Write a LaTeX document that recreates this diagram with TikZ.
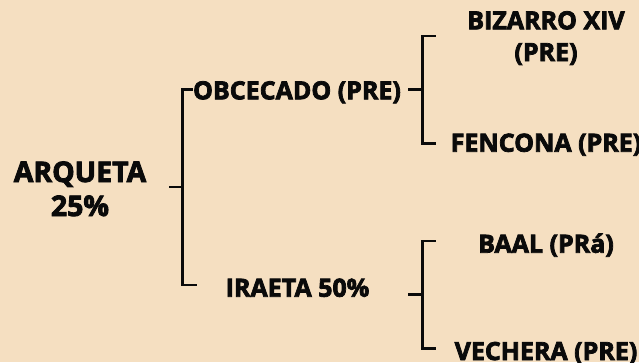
\documentclass[tikz,border=0pt]{standalone}
\usepackage{fontspec}
\setmainfont{Open Sans}[BoldFeatures={FakeBold=3}]
\definecolor{bg}{HTML}{F5DFC1}
\definecolor{ink}{HTML}{0A0A0A}
\tikzset{
  big/.style={font=\bfseries\fontsize{28.4}{34}\selectfont, text=ink, inner sep=0pt, anchor=base, align=center},
  lbl/.style={font=\bfseries\fontsize{25}{32}\selectfont, text=ink, inner sep=0pt, anchor=base, align=center},
  brk/.style={draw=ink, line width=2.8pt, line join=miter, line cap=butt}
}
\begin{document}
\begin{tikzpicture}[x=1pt,y=-1pt]
\fill[bg] (0,0) rectangle (639,362);
\useasboundingbox (0,0) rectangle (639,362);
% texts
\node[big] (arq) at (80,182) {ARQUETA};
\node[big] (arqp) at (80,216) {25\%};
\node[lbl] (obc) at (297,99.3) {OBCECADO (PRE)};
\node[lbl] (ira) at (297.5,296.7) {IRAETA 50\%};
\node[lbl] (biz) at (546,29.3) {BIZARRO XIV};
\node[lbl] (bizp) at (546,61) {(PRE)};
\node[lbl] (fen) at (546,151.7) {FENCONA (PRE)};
\node[lbl] (baal) at (546,252.7) {BAAL (PRá)};
\node[lbl] (vec) at (546,360) {VECHERA (PRE)};
% bracket points
\coordinate (a0) at (169,187);
\coordinate (a1) at (182.7,187);
\coordinate (at) at (182.7,89.3);
\coordinate (ab) at (182.7,285);
\coordinate (ate) at (193,89.3);
\coordinate (abe) at (196.7,285);
\coordinate (u0) at (408,89.3);
\coordinate (u1) at (422.3,89.3);
\coordinate (ut) at (422.3,36);
\coordinate (ub) at (422.3,143.3);
\coordinate (ute) at (435.7,36);
\coordinate (ube) at (435.7,143.3);
\coordinate (l0) at (408,294.3);
\coordinate (l1) at (422.3,294.3);
\coordinate (lt) at (422.3,241);
\coordinate (lb) at (422.3,348.3);
\coordinate (lte) at (435.7,241);
\coordinate (lbe) at (435.7,348.3);
% connectors
\draw[brk] (a0) -- (a1);
\draw[brk] (ate) -- (at) -- (ab) -- (abe);
\draw[brk] (u0) -- (u1);
\draw[brk] (ute) -- (ut) -- (ub) -- (ube);
\draw[brk] (l0) -- (l1);
\draw[brk] (lte) -- (lt) -- (lb) -- (lbe);
\end{tikzpicture}
\end{document}
